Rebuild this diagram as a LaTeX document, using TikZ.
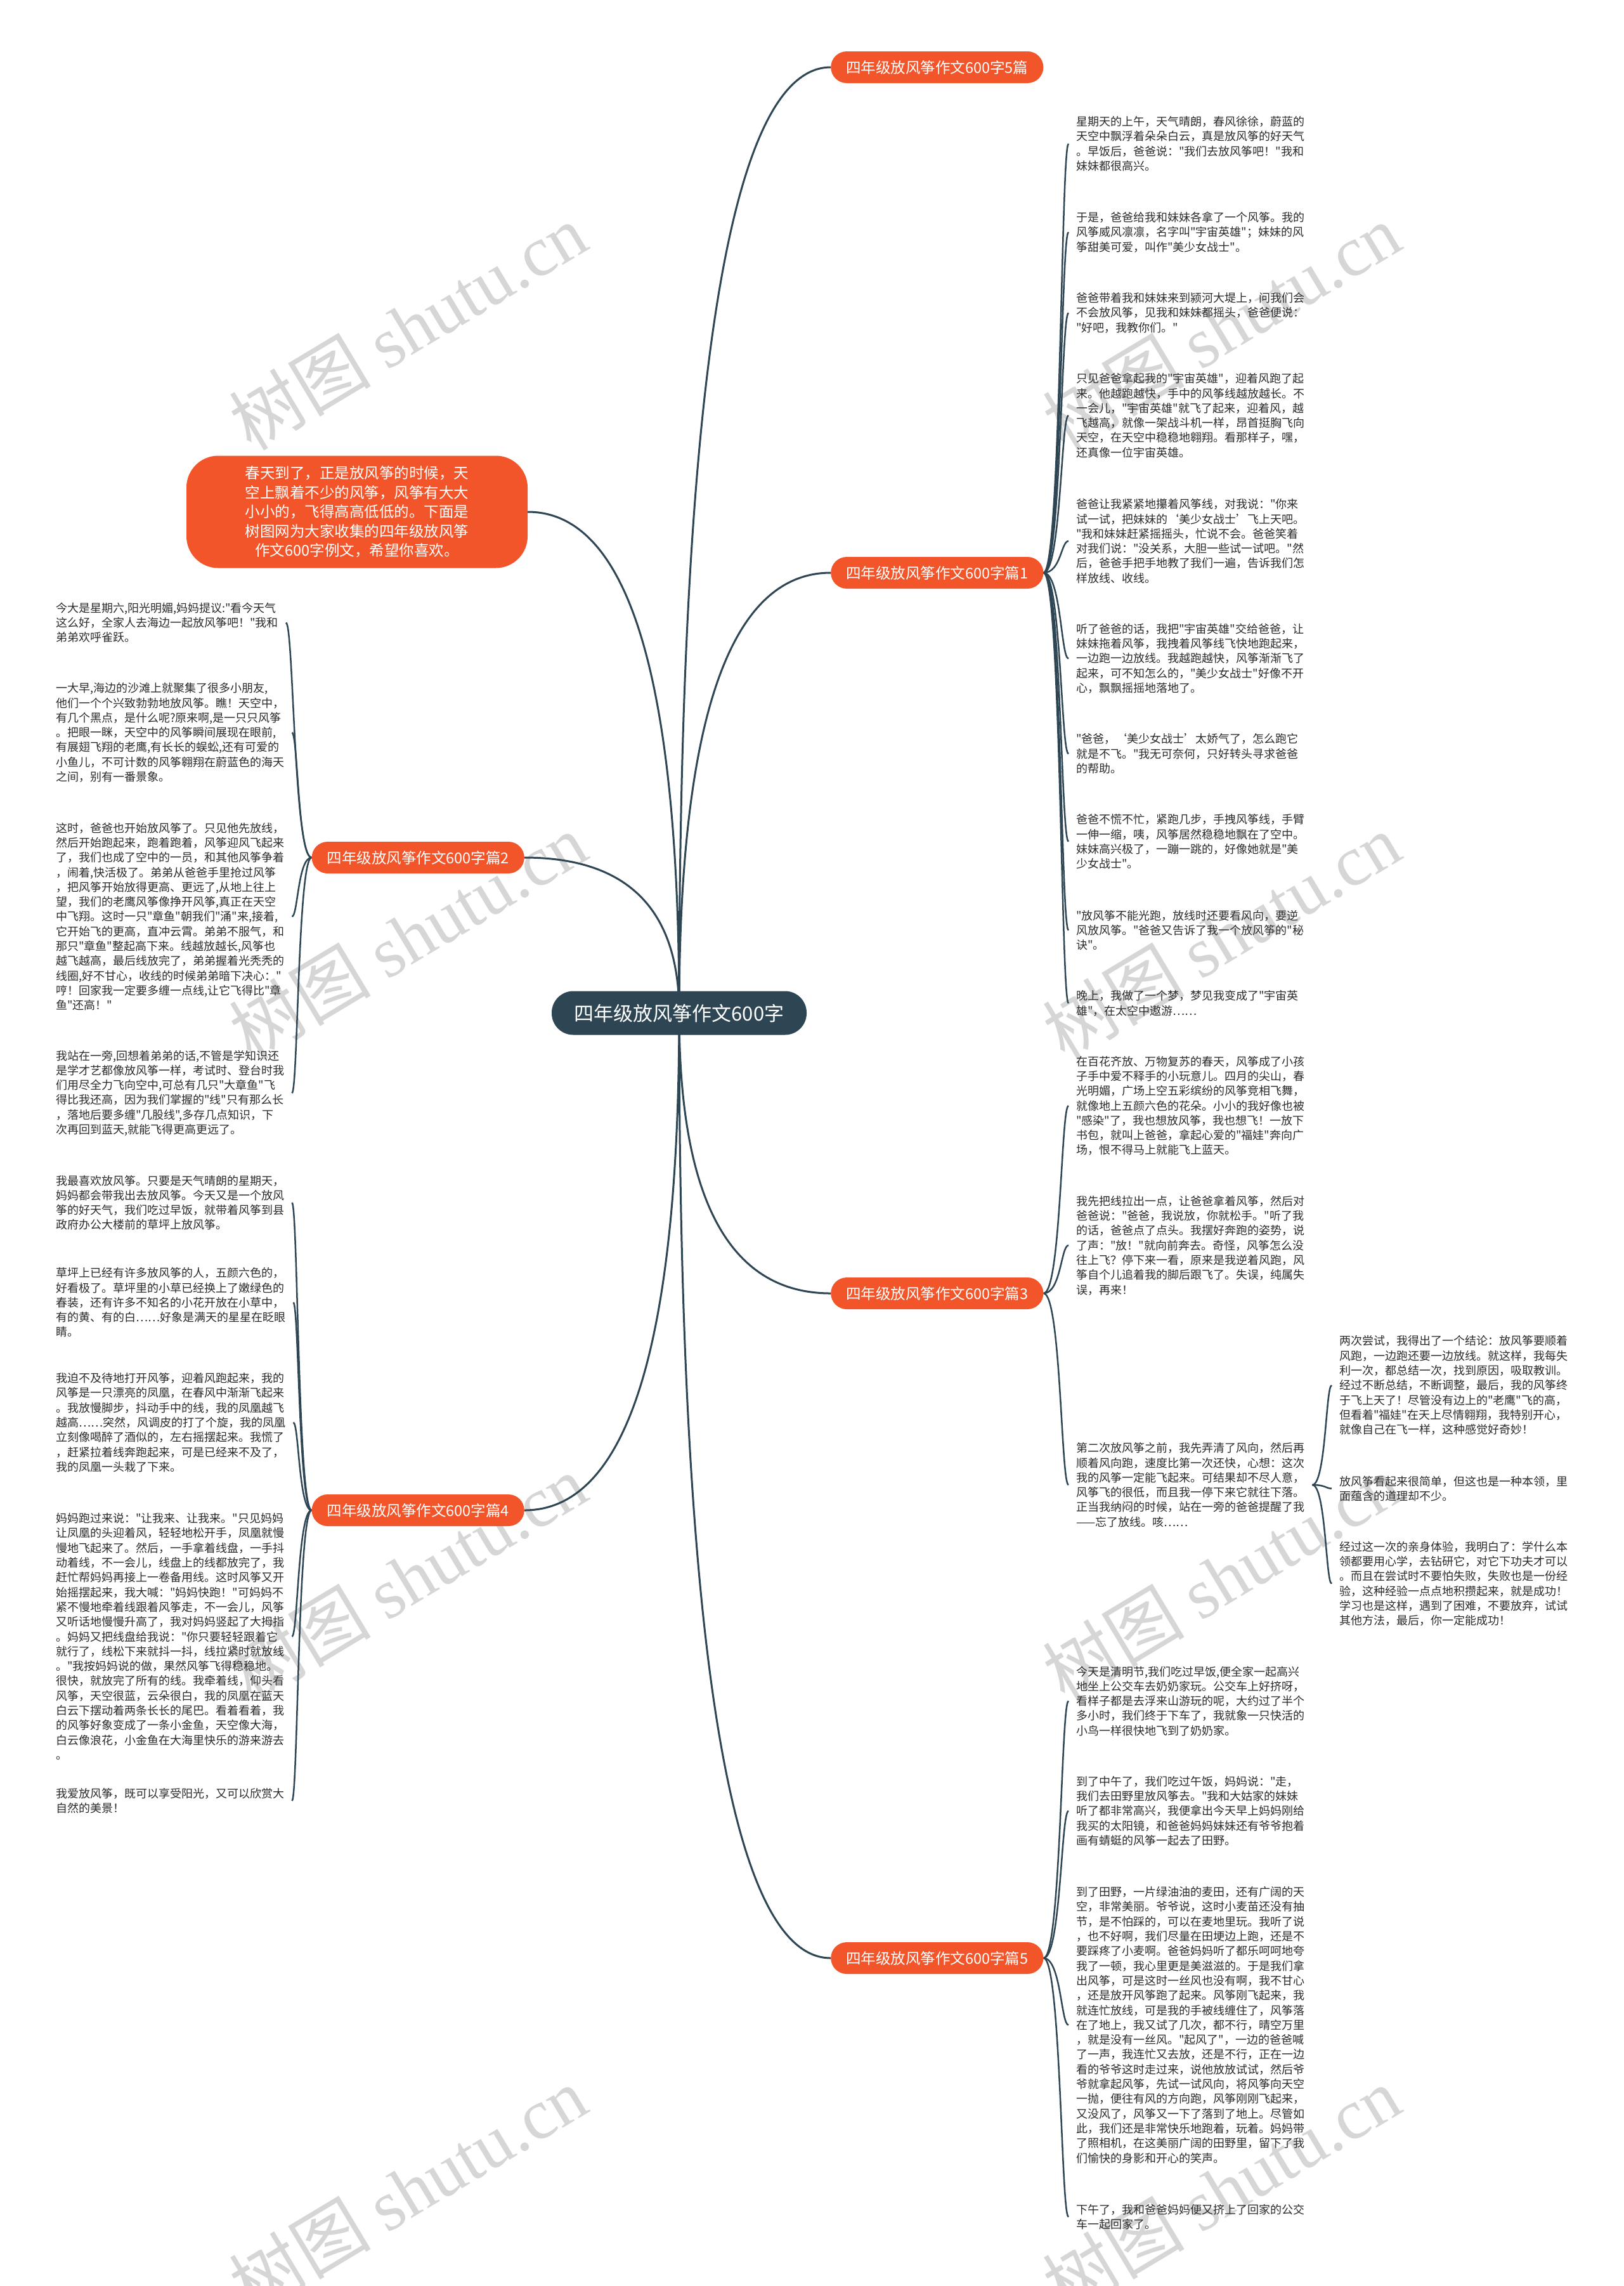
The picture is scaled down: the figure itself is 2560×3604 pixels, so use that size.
\documentclass[tikz,border=0pt]{standalone}
\usepackage{fontspec}
\setmainfont{Noto Sans CJK SC}[Ligatures=TeXOff]
\newfontfamily\wmserif{Liberation Serif}
\usetikzlibrary{calc}
\definecolor{rootc}{HTML}{2E4554}
\definecolor{orng}{HTML}{F3552B}
\definecolor{linec}{HTML}{2E4554}
\definecolor{wmc}{HTML}{D6D6D6}
\definecolor{txt}{HTML}{2B2B2B}
\pgfdeclarelayer{bg}
\pgfsetlayers{bg,main}
\tikzset{
 leaf/.style={font=\fontsize{18}{23.3}\selectfont, align=left, inner xsep=12pt, inner ysep=4pt, text=txt, anchor=west},
 branch/.style={fill=orng, text=white, rounded corners=25pt, font=\fontsize{23.5}{28}\selectfont, minimum height=50pt, inner xsep=24pt, inner ysep=0pt},
 rootbox/.style={fill=rootc, text=white, rounded corners=34pt, font=\fontsize{31}{36}\selectfont, minimum width=402pt, minimum height=69pt},
 introbox/.style={fill=orng, text=white, rounded corners=50pt, font=\fontsize{23.5}{30.5}\selectfont, align=center, minimum width=538pt, minimum height=177pt},
 link/.style={draw=linec, line width=3pt},
 leaflink/.style={draw=linec, line width=2.5pt},
 wm/.style={text=wmc, rotate=31, font=\fontsize{112}{120}\selectfont}
}
\newcommand\edgeR[2]{\draw[leaflink] let \p1=(#1.east), \p2=(#2.west) in (\p1) .. controls ({\x1+0.7*(\x2-\x1)},\y1) and ({\x1+0.7*(\x2-\x1)},\y2) .. (\p2);}
\newcommand\edgeL[2]{\draw[leaflink] let \p1=(#1.west), \p2=(#2.east) in (\p1) .. controls ({\x1+0.7*(\x2-\x1)},\y1) and ({\x1+0.7*(\x2-\x1)},\y2) .. (\p2);}
\newcommand\rootR[2]{\draw[link] let \p1=(#1.center), \p2=(#2.west) in (\p1) .. controls (\x1,{\y1+2/3*(\y2-\y1)}) and ({\x2+2/3*(\x1-\x2)},\y2) .. (\p2);}
\newcommand\rootL[2]{\draw[link] let \p1=(#1.center), \p2=(#2.east) in (\p1) .. controls (\x1,{\y1+2/3*(\y2-\y1)}) and ({\x2+2/3*(\x1-\x2)},\y2) .. (\p2);}
\begin{document}
\begin{tikzpicture}[x=1pt,y=-1pt]
\useasboundingbox (0,0) rectangle (2560,3604);
% background and watermarks
\begin{pgfonlayer}{bg}
\fill[white] (0,0) rectangle (2560,3604);
\foreach \wx/\wy [count=\i] in {643/515,1926/515,643/1476,1926/1476,643/2487,1926/2487,643/3452,1926/3452}{
 \node[wm] (wm\i) at (\wx,\wy) {树图 {\wmserif shutu.cn}};
}
\end{pgfonlayer}
% root and intro
\node[rootbox] (root) at (1071,1597) {四年级放风筝作文600字};
\node[introbox] (intro) at (563,807) {春天到了，正是放风筝的时候，天\\空上飘着不少的风筝，风筝有大大\\小小的，飞得高高低低的。下面是\\树图网为大家收集的四年级放风筝\\作文600字例文，希望你喜欢。};
% branches
\node[branch, anchor=west] (p0) at (1310,106) {四年级放风筝作文600字5篇};
\node[branch, anchor=west] (p1) at (1310,903) {四年级放风筝作文600字篇1};
\node[branch, anchor=east] (p2) at (827,1352) {四年级放风筝作文600字篇2};
\node[branch, anchor=west] (p3) at (1310,2039) {四年级放风筝作文600字篇3};
\node[branch, anchor=east] (p4) at (827,2381) {四年级放风筝作文600字篇4};
\node[branch, anchor=west] (p5) at (1310,3087) {四年级放风筝作文600字篇5};
% leaves of 1
\node[leaf] (a1) at (1685,226.7) {星期天的上午，天气晴朗，春风徐徐，蔚蓝的\\天空中飘浮着朵朵白云，真是放风筝的好天气\\。早饭后，爸爸说："我们去放风筝吧！"我和\\妹妹都很高兴。};
\node[leaf] (a2) at (1685,366) {于是，爸爸给我和妹妹各拿了一个风筝。我的\\风筝威风凛凛，名字叫"宇宙英雄"；妹妹的风\\筝甜美可爱，叫作"美少女战士"。};
\node[leaf] (a3) at (1685,493.3) {爸爸带着我和妹妹来到颍河大堤上，问我们会\\不会放风筝，见我和妹妹都摇头，爸爸便说：\\"好吧，我教你们。"};
\node[leaf] (a4) at (1685,655) {只见爸爸拿起我的"宇宙英雄"，迎着风跑了起\\来。他越跑越快，手中的风筝线越放越长。不\\一会儿，"宇宙英雄"就飞了起来，迎着风，越\\飞越高，就像一架战斗机一样，昂首挺胸飞向\\天空，在天空中稳稳地翱翔。看那样子，嘿，\\还真像一位宇宙英雄。};
\node[leaf] (a5) at (1685,853) {爸爸让我紧紧地攥着风筝线，对我说："你来\\试一试，把妹妹的‘美少女战士’飞上天吧。\\"我和妹妹赶紧摇摇头，忙说不会。爸爸笑着\\对我们说："没关系，大胆一些试一试吧。"然\\后，爸爸手把手地教了我们一遍，告诉我们怎\\样放线、收线。};
\node[leaf] (a6) at (1685,1038.3) {听了爸爸的话，我把"宇宙英雄"交给爸爸，让\\妹妹拖着风筝，我拽着风筝线飞快地跑起来，\\一边跑一边放线。我越跑越快，风筝渐渐飞了\\起来，可不知怎么的，"美少女战士"好像不开\\心，飘飘摇摇地落地了。};
\node[leaf] (a7) at (1685,1188.3) {"爸爸，‘美少女战士’太娇气了，怎么跑它\\就是不飞。"我无可奈何，只好转头寻求爸爸\\的帮助。};
\node[leaf] (a8) at (1685,1326.7) {爸爸不慌不忙，紧跑几步，手拽风筝线，手臂\\一伸一缩，咦，风筝居然稳稳地飘在了空中。\\妹妹高兴极了，一蹦一跳的，好像她就是"美\\少女战士"。};
\node[leaf] (a9) at (1685,1466.7) {"放风筝不能光跑，放线时还要看风向，要逆\\风放风筝。"爸爸又告诉了我一个放风筝的"秘\\诀"。};
\node[leaf] (a10) at (1685,1581.7) {晚上，我做了一个梦，梦见我变成了"宇宙英\\雄"，在太空中遨游……};
% leaves of 3
\node[leaf] (c1) at (1685,1743.3) {在百花齐放、万物复苏的春天，风筝成了小孩\\子手中爱不释手的小玩意儿。四月的尖山，春\\光明媚，广场上空五彩缤纷的风筝竞相飞舞，\\就像地上五颜六色的花朵。小小的我好像也被\\"感染"了，我也想放风筝，我也想飞！一放下\\书包，就叫上爸爸，拿起心爱的"福娃"奔向广\\场，恨不得马上就能飞上蓝天。};
\node[leaf] (c2) at (1685,1963.3) {我先把线拉出一点，让爸爸拿着风筝，然后对\\爸爸说："爸爸，我说放，你就松手。"听了我\\的话，爸爸点了点头。我摆好奔跑的姿势，说\\了声："放！"就向前奔去。奇怪，风筝怎么没\\往上飞？停下来一看，原来是我逆着风跑，风\\筝自个儿追着我的脚后跟飞了。失误，纯属失\\误，再来！};
\node[leaf] (c3) at (1685,2341) {第二次放风筝之前，我先弄清了风向，然后再\\顺着风向跑，速度比第一次还快，心想：这次\\我的风筝一定能飞起来。可结果却不尽人意，\\风筝飞的很低，而且我一停下来它就往下落。\\正当我纳闷的时候，站在一旁的爸爸提醒了我\\——忘了放线。咳……};
\node[leaf] (d1) at (2100,2184) {两次尝试，我得出了一个结论：放风筝要顺着\\风跑，一边跑还要一边放线。就这样，我每失\\利一次，都总结一次，找到原因，吸取教训。\\经过不断总结，不断调整，最后，我的风筝终\\于飞上天了！尽管没有边上的"老鹰"飞的高，\\但看着"福娃"在天上尽情翱翔，我特别开心，\\就像自己在飞一样，这种感觉好奇妙！};
\node[leaf] (d2) at (2100,2346.7) {放风筝看起来很简单，但这也是一种本领，里\\面蕴含的道理却不少。};
\node[leaf] (d3) at (2100,2496.7) {经过这一次的亲身体验，我明白了：学什么本\\领都要用心学，去钻研它，对它下功夫才可以\\。而且在尝试时不要怕失败，失败也是一份经\\验，这种经验一点点地积攒起来，就是成功！\\学习也是这样，遇到了困难，不要放弃，试试\\其他方法，最后，你一定能成功！};
% leaves of 5
\node[leaf] (e1) at (1685,2681.7) {今天是清明节,我们吃过早饭,便全家一起高兴\\地坐上公交车去奶奶家玩。公交车上好挤呀，\\看样子都是去浮来山游玩的呢，大约过了半个\\多小时，我们终于下车了，我就象一只快活的\\小鸟一样很快地飞到了奶奶家。};
\node[leaf] (e2) at (1685,2855) {到了中午了，我们吃过午饭，妈妈说："走，\\我们去田野里放风筝去。"我和大姑家的妹妹\\听了都非常高兴，我便拿出今天早上妈妈刚给\\我买的太阳镜，和爸爸妈妈妹妹还有爷爷抱着\\画有蜻蜓的风筝一起去了田野。};
\node[leaf] (e3) at (1685,3192.5) {到了田野，一片绿油油的麦田，还有广阔的天\\空，非常美丽。爷爷说，这时小麦苗还没有抽\\节，是不怕踩的，可以在麦地里玩。我听了说\\，也不好啊，我们尽量在田埂边上跑，还是不\\要踩疼了小麦啊。爸爸妈妈听了都乐呵呵地夸\\我了一顿，我心里更是美滋滋的。于是我们拿\\出风筝，可是这时一丝风也没有啊，我不甘心\\，还是放开风筝跑了起来。风筝刚飞起来，我\\就连忙放线，可是我的手被线缠住了，风筝落\\在了地上，我又试了几次，都不行，晴空万里\\，就是没有一丝风。"起风了"，一边的爸爸喊\\了一声，我连忙又去放，还是不行，正在一边\\看的爷爷这时走过来，说他放放试试，然后爷\\爷就拿起风筝，先试一试风向，将风筝向天空\\一抛，便往有风的方向跑，风筝刚刚飞起来，\\又没风了，风筝又一下了落到了地上。尽管如\\此，我们还是非常快乐地跑着，玩着。妈妈带\\了照相机，在这美丽广阔的田野里，留下了我\\们愉快的身影和开心的笑声。};
\node[leaf] (e4) at (1685,3495) {下午了，我和爸爸妈妈便又挤上了回家的公交\\车一起回家了。};
% leaves of 2
\node[leaf] (b1) at (76,981.7) {今大是星期六,阳光明媚,妈妈提议:"看今天气\\这么好，全家人去海边一起放风筝吧！"我和\\弟弟欢呼雀跃。};
\node[leaf] (b2) at (76,1155) {一大早,海边的沙滩上就聚集了很多小朋友,\\他们一个个兴致勃勃地放风筝。瞧！天空中，\\有几个黑点，是什么呢?原来啊,是一只只风筝\\。把眼一眯，天空中的风筝瞬间展现在眼前,\\有展翅飞翔的老鹰,有长长的蜈蚣,还有可爱的\\小鱼儿，不可计数的风筝翱翔在蔚蓝色的海天\\之间，别有一番景象。};
\node[leaf] (b3) at (76,1445) {这时，爸爸也开始放风筝了。只见他先放线，\\然后开始跑起来，跑着跑着，风筝迎风飞起来\\了，我们也成了空中的一员，和其他风筝争着\\，闹着,快活极了。弟弟从爸爸手里抢过风筝\\，把风筝开始放得更高、更远了,从地上往上\\望，我们的老鹰风筝像挣开风筝,真正在天空\\中飞翔。这时一只"章鱼"朝我们"涌"来,接着,\\它开始飞的更高，直冲云霄。弟弟不服气，和\\那只"章鱼"整起高下来。线越放越长,风筝也\\越飞越高，最后线放完了，弟弟握着光秃秃的\\线圈,好不甘心，收线的时候弟弟暗下决心："\\哼！回家我一定要多缠一点线,让它飞得比"章\\鱼"还高！"};
\node[leaf] (b4) at (76,1723.3) {我站在一旁,回想着弟弟的话,不管是学知识还\\是学才艺都像放风筝一样，考试时、登台时我\\们用尽全力飞向空中,可总有几只"大章鱼"飞\\得比我还高，因为我们掌握的"线"只有那么长\\，落地后要多缠"几股线",多存几点知识，下\\次再回到蓝天,就能飞得更高更远了。};
% leaves of 4
\node[leaf] (f1) at (76,1896) {我最喜欢放风筝。只要是天气晴朗的星期天，\\妈妈都会带我出去放风筝。今天又是一个放风\\筝的好天气，我们吃过早饭，就带着风筝到县\\政府办公大楼前的草坪上放风筝。};
\node[leaf] (f2) at (76,2053.3) {草坪上已经有许多放风筝的人，五颜六色的，\\好看极了。草坪里的小草已经换上了嫩绿色的\\春装，还有许多不知名的小花开放在小草中，\\有的黄、有的白……好象是满天的星星在眨眼\\睛。};
\node[leaf] (f3) at (76,2242.5) {我迫不及待地打开风筝，迎着风跑起来，我的\\风筝是一只漂亮的凤凰，在春风中渐渐飞起来\\。我放慢脚步，抖动手中的线，我的凤凰越飞\\越高……突然，风调皮的打了个旋，我的凤凰\\立刻像喝醉了酒似的，左右摇摆起来。我慌了\\，赶紧拉着线奔跑起来，可是已经来不及了，\\我的凤凰一头栽了下来。};
\node[leaf] (f4) at (76,2580) {妈妈跑过来说："让我来、让我来。"只见妈妈\\让凤凰的头迎着风，轻轻地松开手，凤凰就慢\\慢地飞起来了。然后，一手拿着线盘，一手抖\\动着线，不一会儿，线盘上的线都放完了，我\\赶忙帮妈妈再接上一卷备用线。这时风筝又开\\始摇摆起来，我大喊："妈妈快跑！"可妈妈不\\紧不慢地牵着线跟着风筝走，不一会儿，风筝\\又听话地慢慢升高了，我对妈妈竖起了大拇指\\。妈妈又把线盘给我说："你只要轻轻跟着它\\就行了，线松下来就抖一抖，线拉紧时就放线\\。"我按妈妈说的做，果然风筝飞得稳稳地。\\很快，就放完了所有的线。我牵着线，仰头看\\风筝，天空很蓝，云朵很白，我的凤凰在蓝天\\白云下摆动着两条长长的尾巴。看着看着，我\\的风筝好象变成了一条小金鱼，天空像大海，\\白云像浪花，小金鱼在大海里快乐的游来游去\\。};
\node[leaf] (f5) at (76,2839) {我爱放风筝，既可以享受阳光，又可以欣赏大\\自然的美景！};
% connectors
\begin{pgfonlayer}{bg}
\foreach \t in {p0,p1,p3,p5}{\rootR{root}{\t}}
\foreach \t in {intro,p2,p4}{\rootL{root}{\t}}
\foreach \t in {a1,a2,a3,a4,a5,a6,a7,a8,a9,a10}{\edgeR{p1}{\t}}
\foreach \t in {c1,c2,c3}{\edgeR{p3}{\t}}
\foreach \t in {d1,d2,d3}{\edgeR{c3}{\t}}
\foreach \t in {e1,e2,e3,e4}{\edgeR{p5}{\t}}
\foreach \t in {b1,b2,b3,b4}{\edgeL{p2}{\t}}
\foreach \t in {f1,f2,f3,f4,f5}{\edgeL{p4}{\t}}
\end{pgfonlayer}
\end{tikzpicture}
\end{document}
